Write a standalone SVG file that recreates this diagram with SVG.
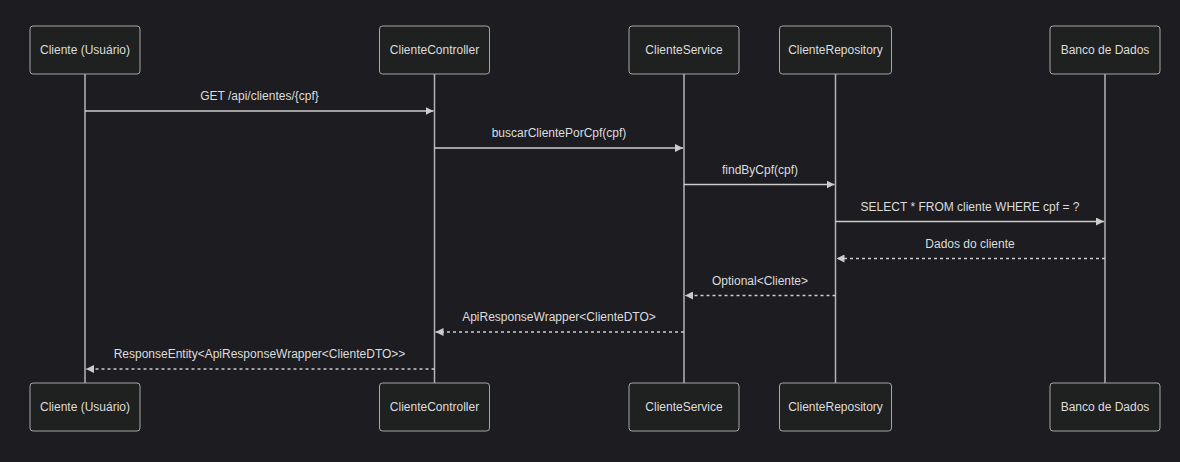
<svg xmlns="http://www.w3.org/2000/svg" width="1180" height="462" viewBox="0 0 1180 462">
<style>
.bg{fill:#1c1c21}
.actor rect{fill:#1f2020;stroke:#a6a6a6;stroke-width:1}
.actor text{font-family:"Liberation Sans",Arial,sans-serif;font-size:12px;fill:#dddddd;text-anchor:middle;dominant-baseline:central}
.life{stroke:#b5b5b5;stroke-width:1.5}
.msg{stroke:#cccccc;stroke-width:1.5;fill:none}
.dash{stroke-dasharray:3,3}
.lbl{font-family:"Liberation Sans",Arial,sans-serif;font-size:12px;fill:#dddddd;text-anchor:middle}
</style>
<defs>
<marker id="ah" viewBox="0 0 10 10" refX="10" refY="5" markerWidth="8" markerHeight="8" markerUnits="userSpaceOnUse" orient="auto">
<path d="M0,0 L10,5 L0,10 z" fill="#cccccc"/>
</marker>
</defs>
<rect class="bg" x="0" y="0" width="1180" height="462"/>
<g id="lifelines">
<line class="life" x1="85" y1="74" x2="85" y2="383"/>
<line class="life" x1="434.5" y1="74" x2="434.5" y2="383"/>
<line class="life" x1="684" y1="74" x2="684" y2="383"/>
<line class="life" x1="835.5" y1="74" x2="835.5" y2="383"/>
<line class="life" x1="1105" y1="74" x2="1105" y2="383"/>
</g>
<g id="cliente" class="actor">
<rect x="30" y="26" width="110" height="48" rx="3"/><text x="85" y="50">Cliente (Usuário)</text>
<rect x="30" y="383" width="110" height="48" rx="3"/><text x="85" y="407">Cliente (Usuário)</text>
</g>
<g id="controller" class="actor">
<rect x="379.5" y="26" width="110" height="48" rx="3"/><text x="434.5" y="50">ClienteController</text>
<rect x="379.5" y="383" width="110" height="48" rx="3"/><text x="434.5" y="407">ClienteController</text>
</g>
<g id="service" class="actor">
<rect x="629" y="26" width="110" height="48" rx="3"/><text x="684" y="50">ClienteService</text>
<rect x="629" y="383" width="110" height="48" rx="3"/><text x="684" y="407">ClienteService</text>
</g>
<g id="repository" class="actor">
<rect x="779.5" y="26" width="112" height="48" rx="3"/><text x="835.5" y="50">ClienteRepository</text>
<rect x="779.5" y="383" width="112" height="48" rx="3"/><text x="835.5" y="407">ClienteRepository</text>
</g>
<g id="banco" class="actor">
<rect x="1050" y="26" width="110" height="48" rx="3"/><text x="1105" y="50">Banco de Dados</text>
<rect x="1050" y="383" width="110" height="48" rx="3"/><text x="1105" y="407">Banco de Dados</text>
</g>
<g id="connectors">
<line class="msg" x1="85" y1="111" x2="433.5" y2="111" marker-end="url(#ah)"/>
<text class="lbl" x="259.5" y="100">GET /api/clientes/{cpf}</text>
<line class="msg" x1="434.5" y1="148" x2="683" y2="148" marker-end="url(#ah)"/>
<text class="lbl" x="559" y="137">buscarClientePorCpf(cpf)</text>
<line class="msg" x1="684" y1="184.5" x2="834.5" y2="184.5" marker-end="url(#ah)"/>
<text class="lbl" x="760" y="174">findByCpf(cpf)</text>
<line class="msg" x1="835.5" y1="221.5" x2="1104" y2="221.5" marker-end="url(#ah)"/>
<text class="lbl" x="970" y="211">SELECT * FROM cliente WHERE cpf = ?</text>
<line class="msg dash" x1="1105" y1="258.5" x2="836.5" y2="258.5" marker-end="url(#ah)"/>
<text class="lbl" x="970" y="248">Dados do cliente</text>
<line class="msg dash" x1="835.5" y1="295.5" x2="685" y2="295.5" marker-end="url(#ah)"/>
<text class="lbl" x="760" y="285">Optional&lt;Cliente&gt;</text>
<line class="msg dash" x1="684" y1="332" x2="435.5" y2="332" marker-end="url(#ah)"/>
<text class="lbl" x="559" y="321">ApiResponseWrapper&lt;ClienteDTO&gt;</text>
<line class="msg dash" x1="434.5" y1="369" x2="86" y2="369" marker-end="url(#ah)"/>
<text class="lbl" x="259.5" y="358">ResponseEntity&lt;ApiResponseWrapper&lt;ClienteDTO&gt;&gt;</text>
</g>
</svg>
